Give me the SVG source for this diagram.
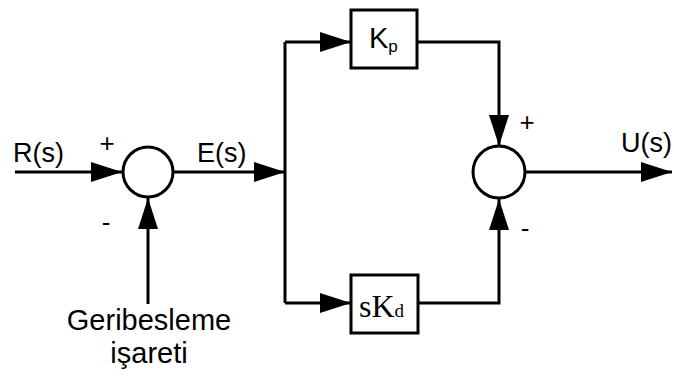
<svg xmlns="http://www.w3.org/2000/svg" width="674" height="376" viewBox="0 0 674 376">
<style>
.ln{fill:none;stroke:#000;stroke-width:3}
.blk{fill:#fff;stroke:#000;stroke-width:3}
.t{font-family:"Liberation Sans",Arial,sans-serif;fill:#000}
.tm{font-family:"Liberation Serif","Times New Roman",serif;fill:#000}
</style>
<defs>
<marker id="ah" markerUnits="userSpaceOnUse" markerWidth="32" markerHeight="22" viewBox="0 0 32 22" refX="31" refY="11" orient="auto">
<path d="M0,1 L31,11 L0,21 Z" fill="#000"/>
</marker>
</defs>
<rect width="674" height="376" fill="#fff"/>
<g id="connectors">
<line class="ln" x1="15" y1="172" x2="122" y2="172" marker-end="url(#ah)"/>
<line class="ln" x1="174" y1="172" x2="285" y2="172" marker-end="url(#ah)"/>
<polyline class="ln" points="285,42 285,303"/>
<line class="ln" x1="285" y1="42" x2="351" y2="42" marker-end="url(#ah)"/>
<line class="ln" x1="285" y1="303" x2="351" y2="303" marker-end="url(#ah)"/>
<polyline class="ln" points="417,42 499,42 499,146" marker-end="url(#ah)"/>
<polyline class="ln" points="418,303 499,303 499,199" marker-end="url(#ah)"/>
<line class="ln" x1="526" y1="172" x2="672" y2="172" marker-end="url(#ah)"/>
<line class="ln" x1="148" y1="304" x2="148" y2="198" marker-end="url(#ah)"/>
</g>
<g id="sum1">
<circle class="blk" cx="148" cy="172" r="25"/>
<text class="t" x="107" y="152" font-size="26" text-anchor="middle">+</text>
<text class="t" x="106" y="231" font-size="26" text-anchor="middle">-</text>
</g>
<g id="sum2">
<circle class="blk" cx="499" cy="172" r="26"/>
<text class="t" x="527" y="131" font-size="26" text-anchor="middle">+</text>
<text class="t" x="525" y="237" font-size="26" text-anchor="middle">-</text>
</g>
<g id="kp">
<rect class="blk" x="351" y="10" width="66" height="58"/>
<text class="t" x="369" y="48" font-size="29">K<tspan font-size="17" dy="4">p</tspan></text>
</g>
<g id="skd">
<rect class="blk" x="351" y="275" width="67" height="58"/>
<text class="tm" x="359" y="317" font-size="32">sK<tspan font-size="19">d</tspan></text>
</g>
<g id="labels">
<text class="t" x="13" y="162" font-size="27">R(s)</text>
<text class="t" x="197" y="162" font-size="27">E(s)</text>
<text class="t" x="621" y="152" font-size="27">U(s)</text>
<text class="t" x="149" y="330" font-size="29" text-anchor="middle">Geribesleme</text>
<text class="t" x="149" y="363" font-size="29" text-anchor="middle">işareti</text>
</g>
</svg>
